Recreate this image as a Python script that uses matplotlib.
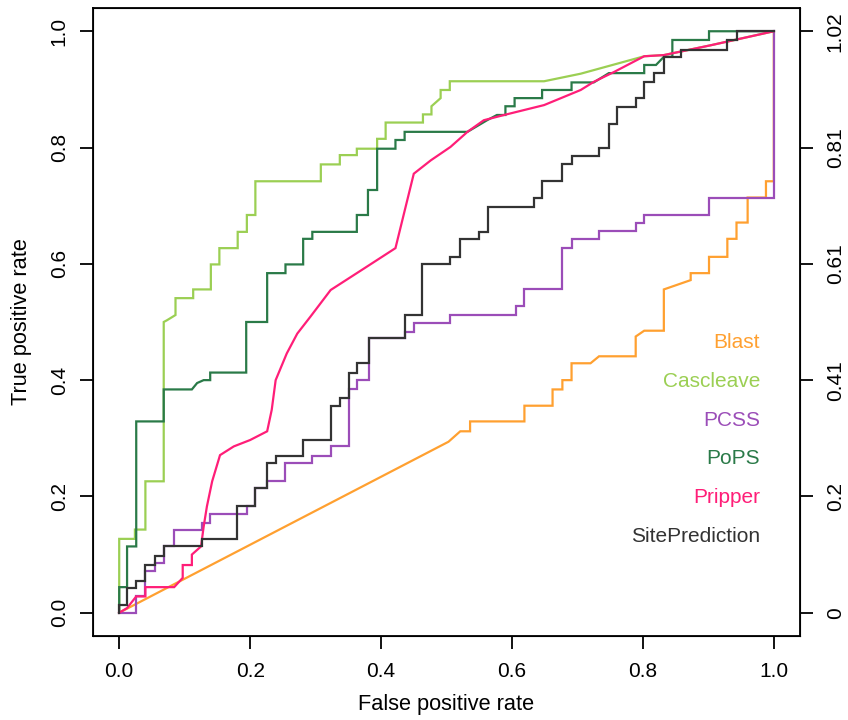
import matplotlib
matplotlib.use("Agg")
import matplotlib.pyplot as plt

plt.rcParams['font.family'] = ['Liberation Sans', 'DejaVu Sans']

# ROC curves, (false positive rate, true positive rate)
blast_pts = [(0, 0), (0.503, 0.294), (0.521, 0.312), (0.536, 0.312), (0.536, 0.329),
             (0.619, 0.329), (0.619, 0.356), (0.662, 0.356), (0.662, 0.384), (0.677, 0.384),
             (0.677, 0.400), (0.691, 0.400), (0.691, 0.429), (0.720, 0.429), (0.733, 0.441),
             (0.789, 0.441), (0.789, 0.475), (0.802, 0.485), (0.832, 0.485), (0.832, 0.556),
             (0.873, 0.572), (0.873, 0.584), (0.901, 0.584), (0.901, 0.612), (0.929, 0.612),
             (0.929, 0.643), (0.943, 0.643), (0.943, 0.671), (0.960, 0.671), (0.960, 0.714),
             (0.988, 0.714), (0.988, 0.742), (1.0, 0.742), (1.0, 1.0)]

cascleave_pts = [(0, 0), (0, 0.127), (0.024, 0.127), (0.024, 0.143), (0.040, 0.143),
                 (0.040, 0.226), (0.068, 0.226), (0.068, 0.500), (0.073, 0.503), (0.086, 0.512),
                 (0.086, 0.541), (0.113, 0.541), (0.113, 0.556), (0.140, 0.556), (0.140, 0.599),
                 (0.153, 0.599), (0.153, 0.627), (0.181, 0.627), (0.181, 0.655), (0.195, 0.655),
                 (0.195, 0.684), (0.208, 0.684), (0.208, 0.742), (0.308, 0.742), (0.308, 0.771),
                 (0.337, 0.771), (0.337, 0.787), (0.363, 0.787), (0.363, 0.798), (0.394, 0.798),
                 (0.394, 0.815), (0.407, 0.815), (0.407, 0.843), (0.464, 0.843), (0.464, 0.857),
                 (0.477, 0.857), (0.477, 0.871), (0.491, 0.885), (0.491, 0.899), (0.505, 0.899),
                 (0.505, 0.914), (0.649, 0.914), (0.705, 0.927), (0.802, 0.957), (0.832, 0.959),
                 (0.904, 0.976), (1.0, 1.0)]

pcss_pts = [(0, 0), (0.026, 0), (0.026, 0.028), (0.040, 0.028), (0.040, 0.071), (0.055, 0.071),
            (0.055, 0.085), (0.068, 0.085), (0.068, 0.114), (0.083, 0.114), (0.083, 0.143),
            (0.126, 0.143), (0.126, 0.154), (0.139, 0.154), (0.139, 0.170), (0.195, 0.170),
            (0.195, 0.184), (0.208, 0.184), (0.208, 0.214), (0.226, 0.214), (0.226, 0.226),
            (0.254, 0.226), (0.254, 0.257), (0.295, 0.257), (0.295, 0.270), (0.323, 0.270),
            (0.323, 0.286), (0.351, 0.286), (0.351, 0.384), (0.363, 0.384), (0.363, 0.400),
            (0.381, 0.400), (0.381, 0.472), (0.436, 0.472), (0.436, 0.483), (0.450, 0.483),
            (0.450, 0.499), (0.505, 0.499), (0.505, 0.512), (0.606, 0.512), (0.606, 0.527),
            (0.618, 0.527), (0.618, 0.556), (0.677, 0.556), (0.677, 0.628), (0.691, 0.628),
            (0.691, 0.643), (0.733, 0.643), (0.733, 0.656), (0.789, 0.656), (0.789, 0.671),
            (0.802, 0.671), (0.802, 0.684), (0.901, 0.684), (0.901, 0.714), (1.0, 0.714),
            (1.0, 1.0)]

pops_pts = [(0, 0), (0, 0.044), (0.012, 0.044), (0.012, 0.114), (0.026, 0.114), (0.026, 0.329),
            (0.068, 0.329), (0.068, 0.384), (0.111, 0.384), (0.119, 0.395), (0.129, 0.400),
            (0.139, 0.400), (0.139, 0.413), (0.194, 0.413), (0.194, 0.500), (0.226, 0.500),
            (0.226, 0.584), (0.254, 0.584), (0.254, 0.599), (0.281, 0.599), (0.281, 0.643),
            (0.295, 0.643), (0.295, 0.655), (0.363, 0.655), (0.363, 0.684), (0.380, 0.684),
            (0.380, 0.727), (0.394, 0.727), (0.394, 0.798), (0.422, 0.798), (0.422, 0.813),
            (0.436, 0.813), (0.436, 0.827), (0.532, 0.827), (0.562, 0.847), (0.577, 0.856),
            (0.590, 0.856), (0.590, 0.871), (0.604, 0.871), (0.604, 0.885), (0.646, 0.885),
            (0.646, 0.899), (0.691, 0.899), (0.691, 0.912), (0.725, 0.912), (0.748, 0.928),
            (0.802, 0.928), (0.802, 0.942), (0.820, 0.942), (0.832, 0.956), (0.845, 0.956),
            (0.845, 0.985), (0.901, 0.985), (0.901, 1.0), (1.0, 1.0)]

pripper_pts = [(0, 0), (0.012, 0.008), (0.026, 0.028), (0.040, 0.028), (0.040, 0.044),
               (0.084, 0.044), (0.097, 0.060), (0.097, 0.082), (0.111, 0.082), (0.111, 0.100),
               (0.125, 0.114), (0.129, 0.148), (0.134, 0.183), (0.142, 0.226), (0.154, 0.271),
               (0.175, 0.286), (0.200, 0.297), (0.226, 0.312), (0.233, 0.349), (0.239, 0.400),
               (0.256, 0.446), (0.272, 0.480), (0.292, 0.509), (0.323, 0.555), (0.374, 0.592),
               (0.422, 0.627), (0.450, 0.755), (0.476, 0.778), (0.506, 0.801), (0.532, 0.827),
               (0.557, 0.847), (0.588, 0.856), (0.649, 0.873), (0.705, 0.899), (0.725, 0.913),
               (0.756, 0.930), (0.802, 0.957), (0.832, 0.959), (0.904, 0.976), (1.0, 1.0)]

siteprediction_pts = [(0, 0), (0, 0.014), (0.012, 0.014), (0.012, 0.042), (0.026, 0.042),
                      (0.026, 0.055), (0.040, 0.055), (0.040, 0.082), (0.054, 0.082), (0.054, 0.098),
                      (0.068, 0.098), (0.068, 0.114), (0.126, 0.114), (0.126, 0.127), (0.180, 0.127),
                      (0.180, 0.184), (0.208, 0.184), (0.208, 0.214), (0.226, 0.214), (0.226, 0.257),
                      (0.239, 0.257), (0.239, 0.270), (0.281, 0.270), (0.281, 0.297), (0.323, 0.297),
                      (0.323, 0.356), (0.337, 0.356), (0.337, 0.369), (0.351, 0.369), (0.351, 0.413),
                      (0.363, 0.413), (0.363, 0.429), (0.381, 0.429), (0.381, 0.472), (0.436, 0.472),
                      (0.436, 0.512), (0.463, 0.512), (0.463, 0.599), (0.505, 0.599), (0.505, 0.612),
                      (0.521, 0.612), (0.521, 0.643), (0.549, 0.643), (0.549, 0.655), (0.563, 0.655),
                      (0.563, 0.698), (0.633, 0.698), (0.633, 0.714), (0.646, 0.714), (0.646, 0.742),
                      (0.677, 0.742), (0.677, 0.771), (0.691, 0.771), (0.691, 0.785), (0.733, 0.785),
                      (0.733, 0.800), (0.748, 0.800), (0.748, 0.841), (0.761, 0.841), (0.761, 0.870),
                      (0.789, 0.870), (0.789, 0.885), (0.802, 0.885), (0.802, 0.913), (0.817, 0.913),
                      (0.817, 0.928), (0.832, 0.928), (0.832, 0.956), (0.858, 0.956), (0.858, 0.968),
                      (0.929, 0.968), (0.929, 0.985), (0.944, 0.985), (0.944, 1.0), (1.0, 1.0)]

names = ['Blast', 'Cascleave', 'PCSS', 'PoPS', 'Pripper', 'SitePrediction']
curves = [blast_pts, cascleave_pts, pcss_pts, pops_pts, pripper_pts, siteprediction_pts]
colors = ['#FFA030', '#9BCF53', '#9B4DB8', '#2A7A48', '#FF1E78', '#333333']

left_ticks = [0.0, 0.2, 0.4, 0.6, 0.8, 1.0]
right_labels = ['0', '0.2', '0.41', '0.61', '0.81', '1.02']

#------------------Plot------------------------------
fig = plt.figure(figsize=(8.48, 7.2), dpi=100)
ax = fig.add_axes([0.1097, 0.1167, 0.8337, 0.8722])

for pts, col in zip(curves, colors):
    xs = [p[0] for p in pts]
    ys = [p[1] for p in pts]
    ax.plot(xs, ys, color=col, lw=1.6, solid_joinstyle='miter')

ax.set_xlim(-0.04, 1.04)
ax.set_ylim(-0.04, 1.04)
ax.set_xticks(left_ticks)
ax.set_xticklabels(['%.1f' % t for t in left_ticks])
ax.set_yticks(left_ticks)
ax.set_yticklabels(['%.1f' % t for t in left_ticks], rotation=90, va='center')
ax.tick_params(axis='x', length=9.5, width=1.3, pad=9.5, labelsize=15)
ax.tick_params(axis='y', length=9.5, width=1.3, pad=8, labelsize=15)
for s in ax.spines.values():
    s.set_linewidth(1.3)

ax2 = ax.twinx()
ax2.set_ylim(-0.04, 1.04)
ax2.set_yticks(left_ticks)
ax2.set_yticklabels(right_labels, rotation=90, va='center')
ax2.tick_params(axis='y', length=9.5, width=1.3, pad=9, labelsize=15)

ax.set_xlabel('False positive rate', fontsize=15.7)
ax.set_ylabel('True positive rate', fontsize=15.7)
ax.xaxis.set_label_coords(0.5, -0.093)
ax.yaxis.set_label_coords(-0.086, 0.5)

# text-only legend, right aligned
for i, (nm, col) in enumerate(zip(names, colors)):
    ax.text(0.979, 0.464 - i * 0.0665, nm, color=col, fontsize=15,
            ha='right', va='center')

fig.savefig('out.png', dpi=100)
